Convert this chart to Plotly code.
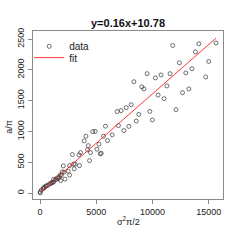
import plotly.graph_objects as go

# data: sigma^2*pi/2 (x) and a/pi (y)
x_vals = [11800, 14120, 15640, 13820, 12390, 15000, 9520, 10260, 10760, 11560,
          12960, 13510, 14730, 8340, 9050, 9240, 11280, 12670, 13230, 10500,
          11030, 7210, 7660, 8100, 9760, 8780, 12090, 9990, 8560, 7900,
          7450, 6860, 5820, 6970, 6420, 5640, 6000, 4690, 4910, 4080,
          3930, 4290, 5240, 5060, 5440, 3600, 3460, 2870, 4400, 2980,
          3110, 3510, 2070, 1980, 2130, 2510, 2630, 1800, 2220, 1620,
          1360, 1210, 850, 500, 270, 115, 20, 5, 337, 382,
          559, 692, 958, 1047, 1091, 1446, 1535, 1713, 1890, 1830,
          3040, 2630, 1210, 5350, 4490, 4224]
y_vals = [2395, 2423, 2436, 2290, 2115, 2136, 1938, 1869, 1917, 1938,
          1950, 2018, 1885, 1807, 1723, 1690, 1739, 1630, 1690, 1591,
          1533, 1339, 1387, 1434, 1326, 1277, 1355, 1188, 1169, 1083,
          1015, 1323, 1086, 1096, 945, 924, 853, 998, 1002, 924,
          848, 771, 794, 713, 648, 658, 621, 626, 528, 470,
          470, 447, 442, 345, 340, 357, 292, 297, 227, 237,
          216, 183, 151, 113, 75, 49, 20, 5, 86, 94,
          118, 126, 159, 167, 175, 224, 248, 264, 288, 204,
          394, 447, 227, 637, 658, 702]

slope = 0.16
intercept = 10.78

x_ticks = [0, 5000, 10000, 15000]
y_ticks = [0, 500, 1000, 1500, 2000, 2500]

x_line = [min(x_vals), max(x_vals)]
y_line = [slope * v + intercept for v in x_line]

FONT = "Liberation Sans, Arial, Helvetica, sans-serif"

fig = go.Figure()
fig.add_trace(go.Scatter(
    x=x_vals, y=y_vals, mode="markers", name="data", legend="legend",
    marker=dict(symbol="circle-open", size=4, color="#333333",
                line=dict(width=0.7, color="#333333")),
))
fig.add_trace(go.Scatter(
    x=x_line, y=y_line, mode="lines", name="fit", legend="legend2",
    line=dict(color="#ff2020", width=0.9),
))

axis_common = dict(
    showgrid=False, zeroline=False, showline=True, mirror=True,
    linecolor="#8a8a8a", linewidth=1, ticks="outside", ticklen=4,
    tickcolor="#8a8a8a", tickwidth=1,
    tickfont=dict(family=FONT, size=9, color="#222222"),
)

legend_common = dict(xanchor="left", yanchor="top",
                     bgcolor="rgba(0,0,0,0)", borderwidth=0,
                     font=dict(family=FONT, size=10, color="#222222"))

fig.update_layout(
    width=240, height=240,
    margin=dict(l=33, r=17, t=31, b=41),
    paper_bgcolor="white", plot_bgcolor="white",
    font=dict(family=FONT, size=9, color="#222222"),
    title=dict(text=f"<b>y={slope}x+{intercept}</b>",
               x=0.5, xref="paper", xanchor="center",
               y=1 - 23 / 240, yref="container", yanchor="middle",
               font=dict(family=FONT, size=11, color="#111111")),
    xaxis=dict(range=[-626, 16269], tickvals=x_ticks,
               ticktext=[str(v) for v in x_ticks], **axis_common),
    yaxis=dict(range=[-95, 2630], tickvals=y_ticks,
               ticktext=[str(v) for v in y_ticks], tickangle=-90,
               **axis_common),
    showlegend=True,
    legend=dict(x=-0.02, y=0.995, **legend_common),
    legend2=dict(x=-0.02, y=0.928, **legend_common),
    annotations=[
        dict(text="σ<sup>2</sup>π/2", xref="paper", yref="paper",
             x=0.5, y=-0.131, xanchor="center", yanchor="middle",
             showarrow=False, font=dict(family=FONT, size=9, color="#222222")),
        dict(text="a/π", xref="paper", yref="paper",
             x=-0.126, y=0.43, xanchor="center", yanchor="middle",
             textangle=-90, showarrow=False,
             font=dict(family=FONT, size=9, color="#222222")),
    ],
)

fig.write_html("out.html", config={"displayModeBar": False},
               post_script="document.body.style.margin='0';document.body.style.padding='0';")
